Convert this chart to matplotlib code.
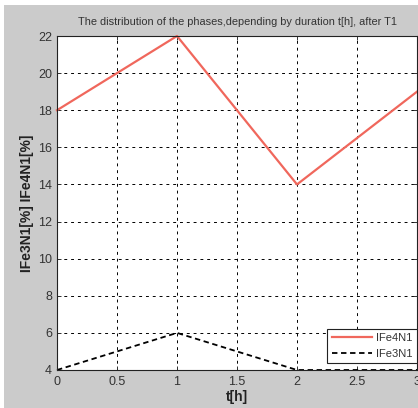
import matplotlib
matplotlib.use("Agg")
import matplotlib.pyplot as plt
from matplotlib.patches import Rectangle

t = [0, 1, 2, 3]
fe4n1 = [18, 22, 14, 19]
fe3n1 = [4, 6, 4, 4]

xticks = [0, 0.5, 1, 1.5, 2, 2.5, 3]
xticklabels = ["0", "0.5", "1", "1.5", "2", "2.5", "3"]
yticks = [4, 6, 8, 10, 12, 14, 16, 18, 20, 22]

plt.rcParams["font.family"] = ["Liberation Sans", "DejaVu Sans"]

fig = plt.figure(figsize=(4.18, 4.08), dpi=100)
fig.patch.set_facecolor("white")
fig.add_artist(Rectangle((4 / 418, 0), 1, 1 - 5 / 408, transform=fig.transFigure,
                         facecolor="#cbcbcb", edgecolor="none", zorder=-10))

ax = fig.add_axes([57 / 418, 1 - 370 / 408, 360 / 418, 334 / 408])
ax.set_facecolor("white")

ax.plot(t, fe4n1, color="#f0675c", lw=1.6, label="IFe4N1", clip_on=False)
ax.plot(t, fe3n1, color="black", lw=1.3, ls=(0, (3, 2)), label="IFe3N1", clip_on=False)

ax.set_xlim(0, 3)
ax.set_ylim(4, 22)
ax.set_xticks(xticks)
ax.set_xticklabels(xticklabels)
ax.set_yticks(yticks)
ax.tick_params(direction="in", length=3, width=0.7, labelsize=9, colors="#333333",
               top=True, right=True)
ax.tick_params(axis="x", pad=4)
ax.grid(True, color="black", ls=(0, (3, 4)), lw=0.7)
for s in ax.spines.values():
    s.set_color("#222222")
    s.set_linewidth(0.8)

ax.set_title("The distribution of the phases,depending by duration t[h], after T1",
             fontsize=7.9, color="#333333", pad=8)
ax.set_xlabel("t[h]", fontsize=10, fontweight="bold", color="#222222", labelpad=2)
ax.set_ylabel("IFe3N1[%] IFe4N1[%]", fontsize=10, fontweight="bold", color="#222222", labelpad=3)

leg = ax.legend(loc="lower right", bbox_to_anchor=(1.0, 0.02), fontsize=8, fancybox=False,
                framealpha=1, edgecolor="#222222", handlelength=3.6, handletextpad=0.4,
                borderaxespad=0.0, labelcolor="#333333")
leg.get_frame().set_linewidth(0.8)

fig.savefig("out.png", dpi=100)
